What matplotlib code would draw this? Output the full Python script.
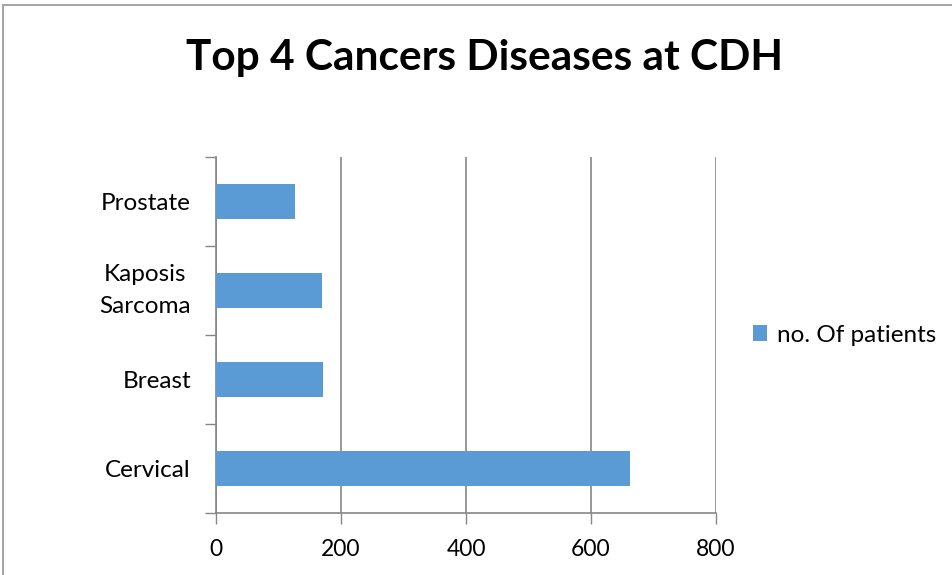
import matplotlib.pyplot as plt
from matplotlib.patches import Rectangle

categories = ['Cervical', 'Breast', 'Kaposis\nSarcoma', 'Prostate']
patients = [663, 171, 170, 126]
series_name = 'no. Of patients'
xticks = [0, 200, 400, 600, 800]

plt.rcParams['font.family'] = ['Lato', 'DejaVu Sans']

fig = plt.figure(figsize=(9.52, 5.75), dpi=100)
ax = fig.add_axes([216/952, 1-513/575, 500/952, 356/575])

bars = ax.barh(range(len(categories)), patients, height=0.4, color='#5B9BD5',
               label=series_name, zorder=3)
ax.set_xlim(0, 800)
ax.set_ylim(-0.5, len(categories)-0.5)
ax.set_xticks(xticks)
ax.set_xticklabels([str(t) for t in xticks], fontsize=16.5)
ax.set_yticks(range(len(categories)))
ax.set_yticklabels(categories, fontsize=17.5, linespacing=1.6, multialignment='center')
for lbl in ax.get_yticklabels():
    if '\n' in lbl.get_text():
        lbl.set_verticalalignment('center')
ax.tick_params(axis='y', length=0, pad=18)
ax.tick_params(axis='x', length=8, width=1, color='#868686', pad=11)
ax.set_yticks([i-0.5 for i in range(len(categories)+1)], minor=True)
ax.tick_params(axis='y', which='minor', length=8, width=1, color='#868686')
ax.grid(axis='x', color='#868686', linewidth=1.2, zorder=0)
for s in ['top', 'right']:
    ax.spines[s].set_visible(False)
for s in ['left', 'bottom']:
    ax.spines[s].set_color('#868686')
    ax.spines[s].set_linewidth(1.2)

fig.text(484/952, 1-58/575, 'Top 4 Cancers Diseases at CDH', ha='center', va='center',
         fontsize=30.5, fontweight='bold')

ax.legend(loc='center left', bbox_to_anchor=(731/500 - 216/500, 0.5), frameon=False,
          fontsize=17.5, handlelength=0.6, handleheight=0.6, handletextpad=0.4)

# outer chart border (top and left visible)
fig.add_artist(Rectangle((3/952, -0.1), 1.2, 1-5/575+0.1, transform=fig.transFigure,
                         fill=False, edgecolor='#A6A6A6', linewidth=1.5))

fig.savefig('out.png', dpi=100)
